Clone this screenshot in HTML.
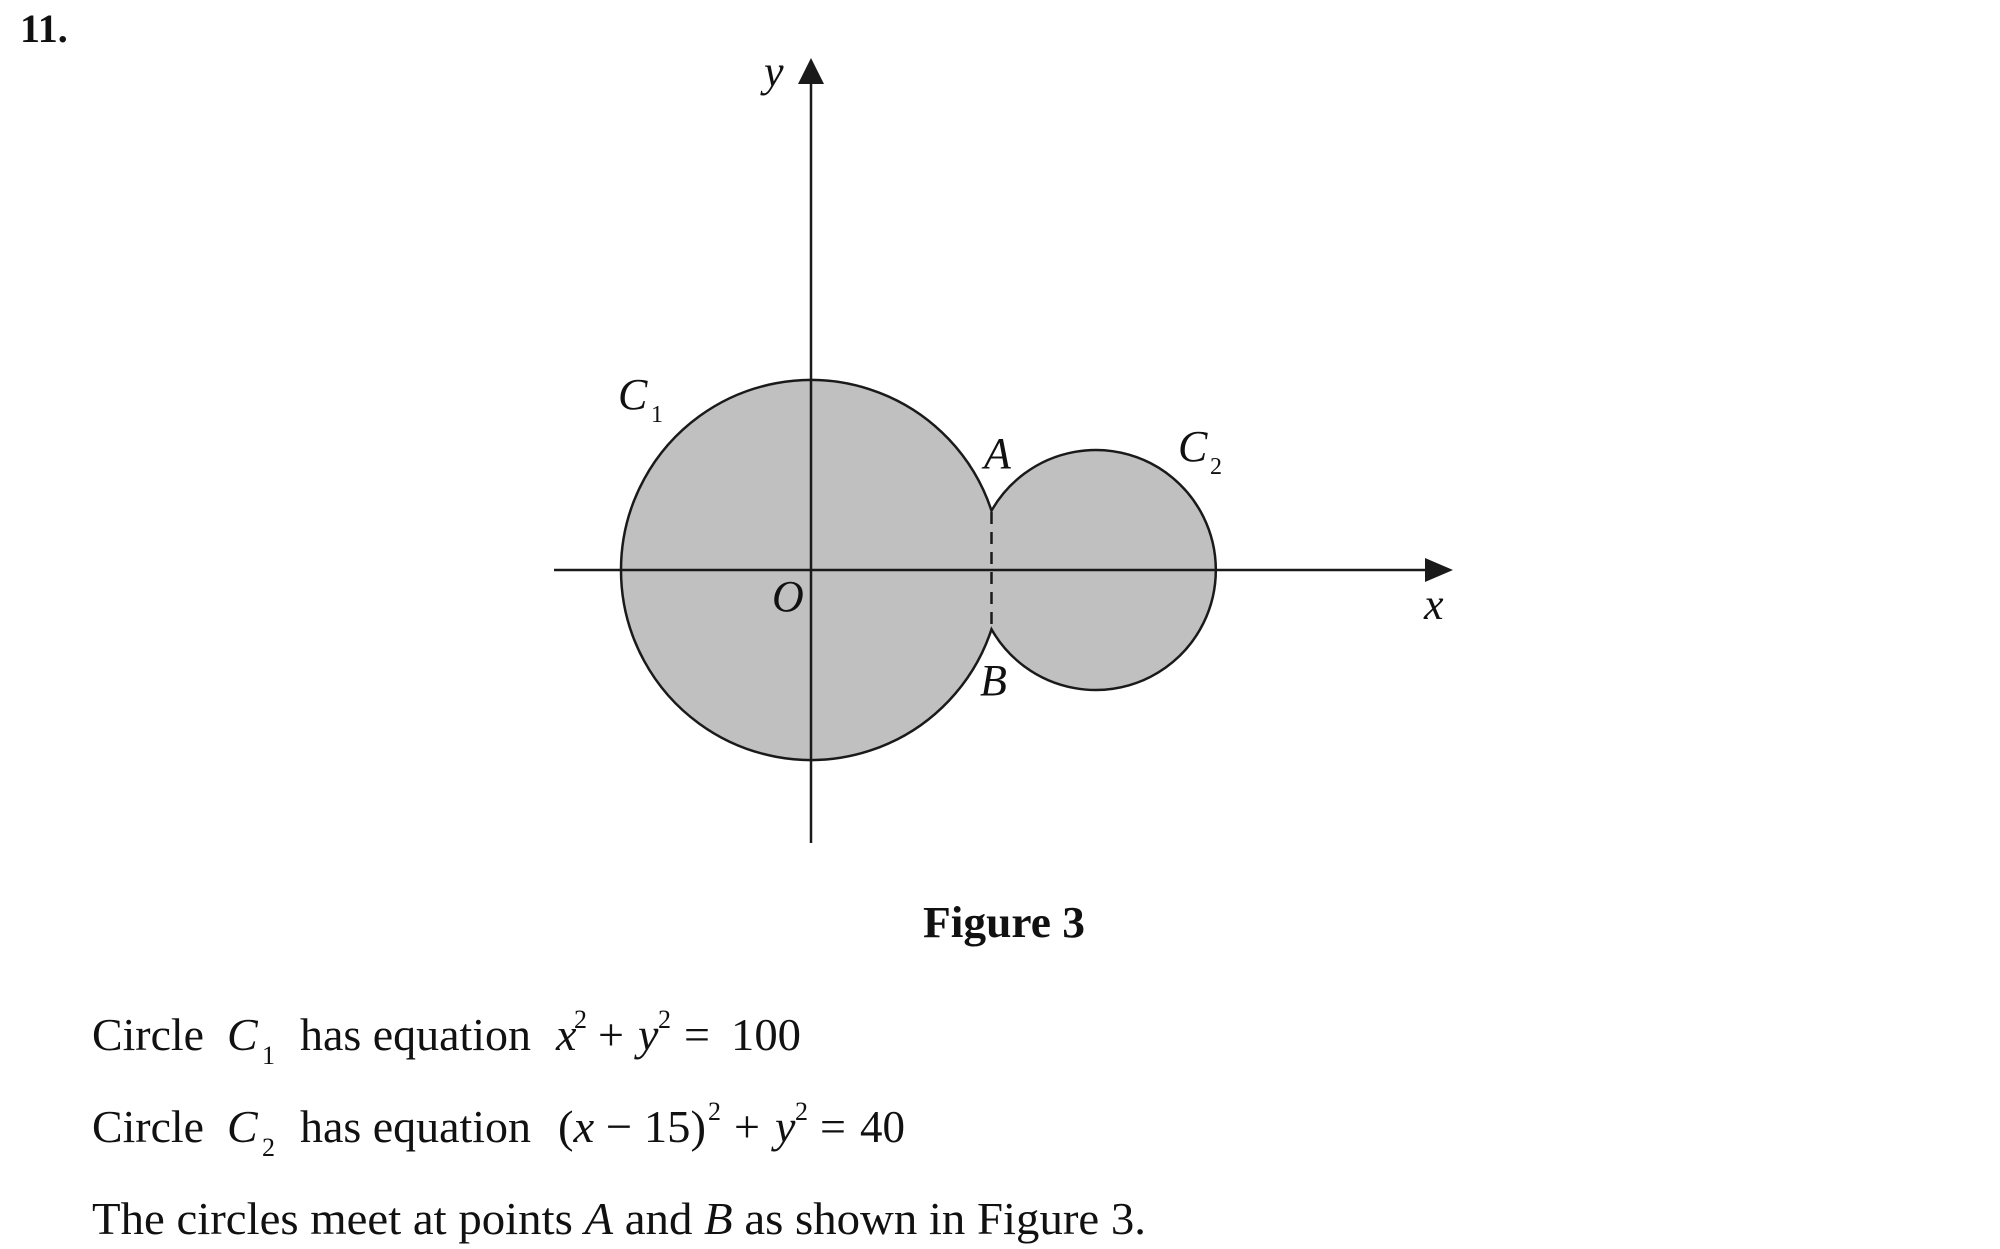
<!DOCTYPE html>
<html><head><meta charset="utf-8"><style>
html,body{margin:0;padding:0;background:#fff;}
svg{display:block;}
text{font-family:"Liberation Serif",serif;fill:#111;}
.i{font-style:italic;}
</style></head><body>
<svg width="2000" height="1249" viewBox="0 0 2000 1249" xmlns="http://www.w3.org/2000/svg">
<text x="20" y="42" font-size="40" font-weight="bold">11.</text>
<path d="M991.5,510.7 A190,190 0 1,0 991.5,629.3 A120,120 0 1,0 991.5,510.7 Z" fill="#c0c0c0" stroke="#1a1a1a" stroke-width="2.5"/>
<line x1="991.5" y1="512" x2="991.5" y2="628" stroke="#1a1a1a" stroke-width="2.5" stroke-dasharray="12,8"/>
<line x1="811" y1="80" x2="811" y2="843" stroke="#1a1a1a" stroke-width="2.5"/>
<polygon points="811,58 798,84 824,84" fill="#1a1a1a"/>
<line x1="554" y1="570" x2="1428" y2="570" stroke="#1a1a1a" stroke-width="2.5"/>
<polygon points="1453,570 1425,558 1425,582" fill="#1a1a1a"/>
<text class="i" x="764" y="86" font-size="44">y</text>
<text class="i" x="1424" y="619" font-size="44">x</text>
<text class="i" x="772" y="611" font-size="44">O</text>
<text class="i" x="618" y="409" font-size="44">C</text>
<text x="651" y="422" font-size="24">1</text>
<text class="i" x="984" y="468" font-size="44">A</text>
<text class="i" x="980" y="695" font-size="44">B</text>
<text class="i" x="1178" y="461" font-size="44">C</text>
<text x="1210" y="474" font-size="24">2</text>
<text x="923" y="937" font-size="44" font-weight="bold" textLength="162" lengthAdjust="spacingAndGlyphs">Figure 3</text>
<text x="92" y="1050" font-size="46" textLength="112" lengthAdjust="spacingAndGlyphs">Circle</text>
<text class="i" x="227" y="1050" font-size="46">C</text>
<text x="262" y="1064" font-size="26">1</text>
<text x="300" y="1050" font-size="46" textLength="231" lengthAdjust="spacingAndGlyphs">has equation</text>
<text class="i" x="556" y="1050" font-size="46">x</text>
<text x="574" y="1028" font-size="26">2</text>
<text x="598" y="1050" font-size="46">+</text>
<text class="i" x="638" y="1050" font-size="46">y</text>
<text x="658" y="1028" font-size="26">2</text>
<text x="684" y="1050" font-size="46">=</text>
<text x="731" y="1050" font-size="46" textLength="70" lengthAdjust="spacingAndGlyphs">100</text>
<text x="92" y="1142" font-size="46" textLength="112" lengthAdjust="spacingAndGlyphs">Circle</text>
<text class="i" x="227" y="1142" font-size="46">C</text>
<text x="262" y="1156" font-size="26">2</text>
<text x="300" y="1142" font-size="46" textLength="231" lengthAdjust="spacingAndGlyphs">has equation</text>
<text x="558" y="1142" font-size="46" textLength="148" lengthAdjust="spacingAndGlyphs">(<tspan class="i">x</tspan> − 15)</text>
<text x="708" y="1120" font-size="26">2</text>
<text x="734" y="1142" font-size="46">+</text>
<text class="i" x="775" y="1142" font-size="46">y</text>
<text x="795" y="1120" font-size="26">2</text>
<text x="820" y="1142" font-size="46">=</text>
<text x="860" y="1142" font-size="46" textLength="45" lengthAdjust="spacingAndGlyphs">40</text>
<text x="92" y="1234" font-size="46" textLength="1054" lengthAdjust="spacingAndGlyphs">The circles meet at points <tspan class="i">A</tspan> and <tspan class="i">B</tspan> as shown in Figure 3.</text>
</svg>
</body></html>
